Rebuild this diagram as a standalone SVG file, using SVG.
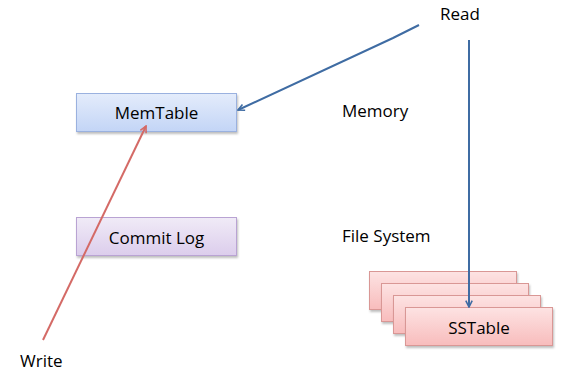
<svg xmlns="http://www.w3.org/2000/svg" width="587" height="373" viewBox="0 0 587 373">
<defs>
<linearGradient id="gBlue" x1="0" y1="0" x2="0" y2="1"><stop offset="0" stop-color="#e4ecfb"/><stop offset="1" stop-color="#c3d5f6"/></linearGradient>
<linearGradient id="gPurple" x1="0" y1="0" x2="0" y2="1"><stop offset="0" stop-color="#f0ebf7"/><stop offset="1" stop-color="#dccdec"/></linearGradient>
<linearGradient id="gPink" x1="0" y1="0" x2="0" y2="1"><stop offset="0" stop-color="#fde3e3"/><stop offset="1" stop-color="#f8bcbc"/></linearGradient>
<filter id="sh" x="-10%" y="-10%" width="130%" height="140%"><feDropShadow dx="1" dy="2" stdDeviation="1.2" flood-color="#000" flood-opacity="0.25"/></filter>
<marker id="aBlue" viewBox="0 0 10 10" refX="9" refY="5" markerWidth="8" markerHeight="8" orient="auto" markerUnits="userSpaceOnUse"><path d="M1,1 L9,5 L1,9" fill="none" stroke="#3f6ca3" stroke-width="2"/></marker>
<marker id="aRed" viewBox="0 0 10 10" refX="9" refY="5" markerWidth="8" markerHeight="8" orient="auto" markerUnits="userSpaceOnUse"><path d="M1,1 L9,5 L1,9" fill="none" stroke="#d46a66" stroke-width="2"/></marker>
</defs>
<style>
text{font-family:"Open Sans","Noto Sans","Liberation Sans",sans-serif;font-size:17px;fill:#000}
.blue{fill:url(#gBlue);stroke:#9ab1df;stroke-width:1}
.purple{fill:url(#gPurple);stroke:#b9a3d3;stroke-width:1}
.pink{fill:url(#gPink);stroke:#d99795;stroke-width:1}
.cb{stroke:#3f6ca3;stroke-width:2;fill:none}
.cr{stroke:#d46a66;stroke-width:2;fill:none}
</style>
<rect width="587" height="373" fill="#fff"/>
<g id="divider"><line x1="10" y1="181" x2="587" y2="181" stroke="#000" stroke-width="3" filter="url(#sh)"/></g>
<g id="memtable"><rect class="blue" x="76.5" y="93.5" width="160" height="38" filter="url(#sh)"/><text x="156.5" y="119" text-anchor="middle">MemTable</text></g>
<g id="commitlog"><rect class="purple" x="76.5" y="217.5" width="160" height="38" filter="url(#sh)"/><text x="156.5" y="244" text-anchor="middle">Commit Log</text></g>
<g id="sstable">
<rect class="pink" x="369.5" y="271.5" width="147" height="38" filter="url(#sh)"/>
<rect class="pink" x="381.5" y="283.5" width="147" height="38" filter="url(#sh)"/>
<rect class="pink" x="393.5" y="295.5" width="147" height="38" filter="url(#sh)"/>
<rect class="pink" x="405.5" y="307.5" width="147" height="38" filter="url(#sh)"/>
<text x="479" y="334" text-anchor="middle">SSTable</text>
</g>
<g id="labels">
<text x="440" y="20">Read</text>
<text x="342" y="117">Memory</text>
<text x="342" y="242">File System</text>
<text x="20" y="367">Write</text>
</g>
<g id="connectors">
<polyline class="cb" points="419,25 393,38 238,110" marker-end="url(#aBlue)"/>
<line class="cb" x1="469" y1="40" x2="469" y2="307" marker-end="url(#aBlue)"/>
<line class="cr" x1="43" y1="340" x2="146" y2="126" marker-end="url(#aRed)"/>
</g>
</svg>
